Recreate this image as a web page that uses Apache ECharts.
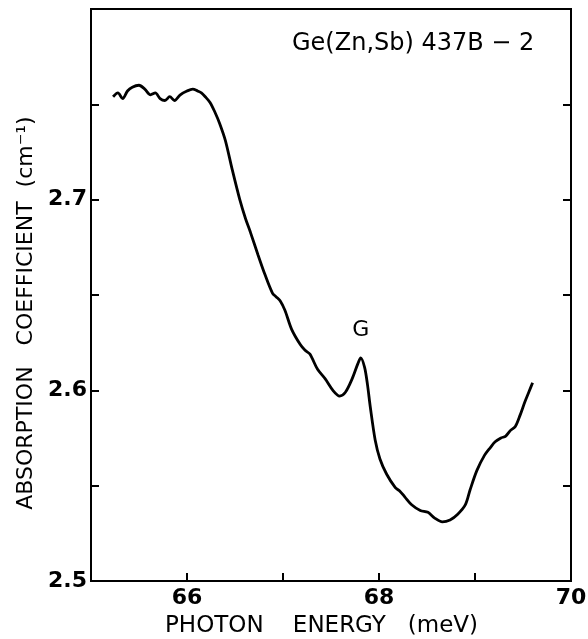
<!DOCTYPE html>
<html>
<head>
<meta charset="utf-8">
<script src="https://cdn.jsdelivr.net/npm/echarts@6/dist/echarts.min.js"></script>
<style>
  html, body { margin: 0; padding: 0; background: #fff; }
  #chart { width: 588px; height: 639px; }
</style>
</head>
<body>
<div id="chart"></div>
<script>
// Photon energy (meV) of each sample along the absorption trace
const energy = [
  65.23, 65.28, 65.33, 65.38, 65.43, 65.50, 65.56, 65.62, 65.67, 65.72,
  65.77, 65.82, 65.87, 65.93, 66.00, 66.06, 66.11, 66.15, 66.19, 66.24,
  66.29, 66.34, 66.40, 66.47, 66.55, 66.61, 66.66, 66.74, 66.81, 66.89,
  66.93, 66.97, 67.02, 67.09, 67.18, 67.23, 67.28, 67.36, 67.44, 67.52,
  67.59, 67.65, 67.72, 67.78, 67.81, 67.85, 67.88, 67.91, 67.96, 68.01,
  68.08, 68.17, 68.22, 68.27, 68.34, 68.43, 68.51, 68.58, 68.66, 68.74,
  68.82, 68.90, 68.95, 69.02, 69.10, 69.16, 69.21, 69.27, 69.32, 69.37,
  69.42, 69.47, 69.52, 69.56, 69.60
];
// Absorption coefficient (cm^-1) at each energy
const absorption = [
  2.754, 2.756, 2.753, 2.757, 2.759, 2.760, 2.758, 2.755, 2.756, 2.753,
  2.752, 2.754, 2.752, 2.755, 2.757, 2.758, 2.757, 2.756, 2.754, 2.751,
  2.746, 2.740, 2.731, 2.716, 2.700, 2.690, 2.683, 2.671, 2.661, 2.651,
  2.649, 2.647, 2.642, 2.632, 2.624, 2.621, 2.619, 2.611, 2.606, 2.600,
  2.597, 2.599, 2.606, 2.614, 2.617, 2.612, 2.603, 2.591, 2.574, 2.564,
  2.556, 2.549, 2.547, 2.544, 2.540, 2.537, 2.536, 2.533, 2.531, 2.532,
  2.535, 2.540, 2.548, 2.558, 2.566, 2.570, 2.573, 2.575, 2.576, 2.579,
  2.581, 2.587, 2.594, 2.599, 2.604
];
// Labelled ticks on each axis
const xTickLabels = [66, 68, 70];
const yTickLabels = [2.5, 2.6, 2.7];
// Peak annotation and sample name
const peakName = 'G';
const peakPos = [67.81, 2.617];
const sampleName = 'Ge(Zn,Sb) 437B \u2212 2';

const FONT = 'DejaVu Sans';
const close = (a, b) => Math.abs(a - b) < 1e-6;

const chart = echarts.init(document.getElementById('chart'), null, { renderer: 'canvas' });

const yAxisCommon = {
  type: 'value', min: 2.5, max: 2.8, interval: 0.05,
  splitLine: { show: false },
  axisLine: { show: true, lineStyle: { color: '#000', width: 2 } },
  axisTick: { show: true, inside: true, length: 8, lineStyle: { color: '#000', width: 2 } }
};

chart.setOption({
  animation: false,
  backgroundColor: '#fff',
  grid: {
    left: 91, right: 17, top: 9, bottom: 58,
    containLabel: false,
    outerBoundsMode: 'none',
    show: true, borderColor: '#000', borderWidth: 2
  },
  xAxis: {
    type: 'value', min: 65, max: 70, interval: 1,
    name: 'PHOTON    ENERGY   (meV)',
    nameLocation: 'middle', nameGap: 34,
    nameTextStyle: { fontFamily: FONT, fontSize: 23, color: '#000', padding: [0, 19, 0, 0] },
    splitLine: { show: false },
    axisLine: { show: true, lineStyle: { color: '#000', width: 2 } },
    axisTick: { show: true, inside: true, length: 8, lineStyle: { color: '#000', width: 2 } },
    axisLabel: {
      margin: 6, fontFamily: FONT, fontSize: 22, fontWeight: 'bold', color: '#000',
      formatter: v => xTickLabels.some(t => close(t, v)) ? String(v) : ''
    }
  },
  yAxis: [
    Object.assign({}, yAxisCommon, {
      position: 'left',
      name: 'ABSORPTION   COEFFICIENT  (cm\u207B\u00B9)',
      nameLocation: 'middle', nameGap: 50, nameRotate: 90,
      nameTextStyle: { fontFamily: FONT, fontSize: 22, color: '#000', padding: [0, 36, 0, 0] },
      axisLabel: {
        margin: 4, fontFamily: FONT, fontSize: 22, fontWeight: 'bold', color: '#000',
        formatter: v => yTickLabels.some(t => close(t, v)) ? v.toFixed(1) : ''
      }
    }),
    Object.assign({}, yAxisCommon, {
      position: 'right',
      axisLabel: { show: false }
    })
  ],
  series: [{
    type: 'line',
    data: energy.map((e, i) => [e, absorption[i]]),
    showSymbol: false,
    smooth: 0.3,
    lineStyle: { color: '#000', width: 2.8 },
    markPoint: {
      symbol: 'circle',
      symbolSize: 1,
      itemStyle: { color: 'rgba(0,0,0,0)' },
      data: [{ coord: peakPos, value: peakName }],
      label: {
        show: true, position: 'inside', formatter: peakName, offset: [0, -28],
        fontFamily: FONT, fontSize: 22, color: '#000'
      }
    }
  }],
  graphic: [{
    type: 'text', left: 292, top: 32,
    style: { text: sampleName, font: '24px "DejaVu Sans"', fill: '#000' }
  }]
});
</script>
</body>
</html>
